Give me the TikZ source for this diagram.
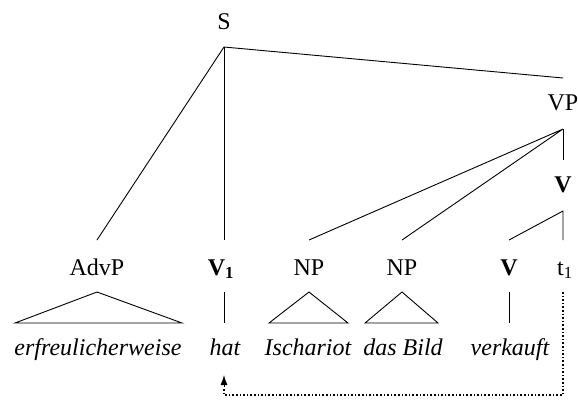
\documentclass[tikz,border=0pt]{standalone}
\usepackage{fontspec}
\setmainfont{Liberation Serif}
\usetikzlibrary{arrows.meta}
\begin{document}
\begin{tikzpicture}[x=1pt,y=-1pt,
  lbl/.style={anchor=base,inner sep=0pt,font=\fontsize{24}{27}\selectfont},
  word/.style={lbl,font=\fontsize{24}{27}\selectfont\itshape},
  edge/.style={line width=0.9pt},
  trace/.style={line width=1.6pt,dotted}]
\useasboundingbox (0,0) rectangle (578,400);
% labels
\node[lbl] (S) at (224,29) {S};
\node[lbl] (VP) at (563,110) {VP};
\node[lbl] (Vbar) at (563,192) {\textbf{V}};
\node[lbl] (AdvP) at (97,275) {AdvP};
\node[lbl] (V1) at (221,275) {\textbf{V}\textsubscript{\textbf{1}}};
\node[lbl] (NP1) at (309,275) {NP};
\node[lbl] (NP2) at (402,275) {NP};
\node[lbl] (V) at (509,275) {\textbf{V}};
\node[lbl] (t1) at (565,275) {t\textsubscript{1}};
% words
\node[word] (w1) at (98,355) {erfreulicherweise};
\node[word] (w2) at (225,355) {hat};
\node[word] (w3) at (308,355) {Ischariot};
\node[word] (w4) at (403,355) {das Bild};
\node[word] (w5) at (510,355) {verkauft};
% attachment points
\coordinate (Sb) at (224,47);
\coordinate (VPt) at (563,78);
\coordinate (VPb) at (563,129);
\coordinate (Vbt) at (563,160);
\coordinate (Vbb) at (563,211);
\coordinate (AdvPt) at (97,240);
\coordinate (V1t) at (224,240);
\coordinate (NP1t) at (309,240);
\coordinate (NP2t) at (402,240);
\coordinate (Vt) at (509,240);
\coordinate (t1t) at (563,240);
\coordinate (AdvPb) at (97,292);
\coordinate (V1b) at (224,292);
\coordinate (NP1b) at (309,292);
\coordinate (NP2b) at (402,292);
\coordinate (Vb) at (509,292);
\coordinate (t1b) at (563,292);
\coordinate (hatt) at (224,323);
\coordinate (Vw) at (509,323);
% tree edges
\draw[edge] (AdvPt) -- (Sb) -- (VPt);
\draw[edge] (Sb) -- (V1t);
\draw[edge] (NP1t) -- (VPb) -- (NP2t);
\draw[edge] (VPb) -- (Vbt);
\draw[edge] (Vt) -- (Vbb) -- (t1t);
\draw[edge] (V1b) -- (hatt);
\draw[edge] (Vb) -- (Vw);
% triangles
\draw[edge] (15,323) -- (AdvPb) -- (182,323) -- cycle;
\draw[edge] (269,323) -- (NP1b) -- (348,323) -- cycle;
\draw[edge] (365,323) -- (NP2b) -- (438,323) -- cycle;
% movement trace
\coordinate (c1) at (563,395);
\coordinate (c2) at (224,395);
\coordinate (hatarr) at (224,375);
\draw[trace] (t1b) -- (c1) -- (c2) -- (224,388);
\draw[line width=1pt,-{Latex[length=10pt,width=7pt]}] (224,387) -- (hatarr);
\end{tikzpicture}
\end{document}
